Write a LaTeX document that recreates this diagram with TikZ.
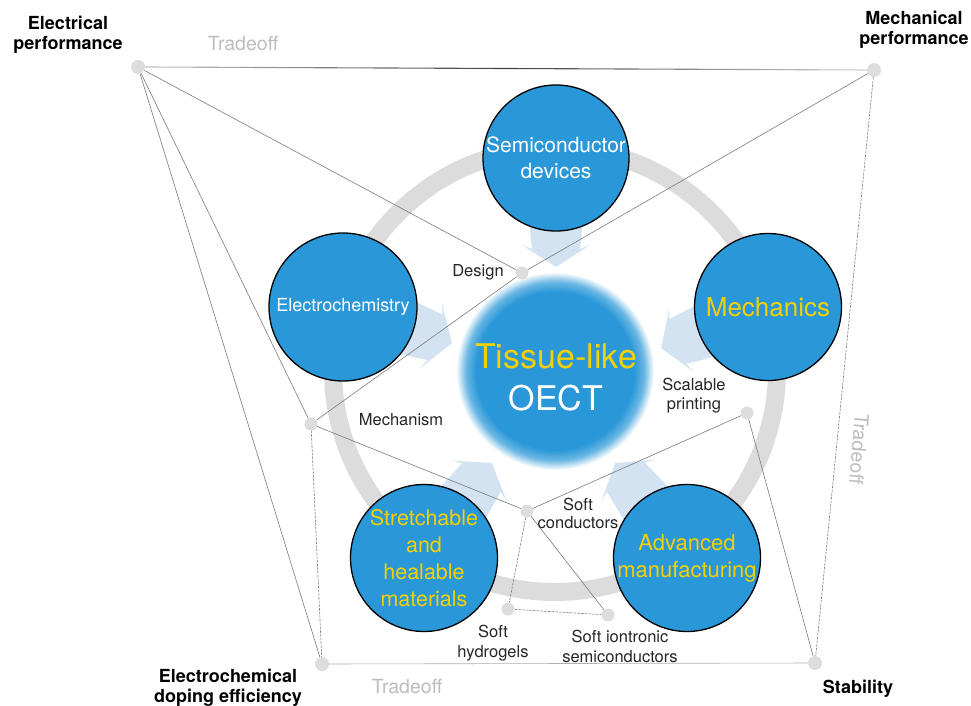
\documentclass[tikz,border=0pt]{standalone}
\usepackage{fontspec}
\setmainfont{TeX Gyre Heros}
\usetikzlibrary{calc}
\definecolor{oblue}{HTML}{2A98D8}
\definecolor{yel}{HTML}{F5D000}
\definecolor{ringgray}{HTML}{DCDCDC}
\definecolor{arrowblue}{HTML}{D3E3F1}
\definecolor{dotgray}{HTML}{DDDDDD}
\definecolor{linegray}{HTML}{7A7A7A}
\definecolor{tradegray}{HTML}{BDBDBD}
\pgfdeclareradialshading{oectshade}{\pgfpoint{0bp}{0bp}}{color(0bp)=(oblue); color(20bp)=(oblue); color(22.5bp)=(oblue!70!white); color(25bp)=(white); color(50bp)=(white)}
\begin{document}
\begin{tikzpicture}[x=1pt,y=-1pt,
  dot/.style={circle, fill=dotgray, minimum size=13pt, inner sep=0pt},
  conn/.style={draw=linegray, line width=0.6pt},
  dconn/.style={conn, dash pattern=on 2.5pt off 1.2pt},
  topic/.style={circle, draw=black, line width=1.3pt, fill=oblue, inner sep=0pt, align=center},
  corner/.style={font=\bfseries\fontsize{18}{20}\selectfont, align=center, inner sep=0pt},
  lab/.style={font=\fontsize{16.5}{19}\selectfont, align=center, inner sep=0pt, text=black!85},
  trade/.style={font=\fontsize{19.5}{20}\selectfont, text=tradegray, inner sep=0pt},
  bigarrow/.pic={\fill[arrowblue] (0,0) -- (-22,34) -- (-18,24) -- (-90,32) -- (-90,-32) -- (-18,-24) -- (-22,-34) -- cycle;}
]
\useasboundingbox (0,0) rectangle (971,706);
\fill[white] (0,0) rectangle (971,706);

% ring
\draw[ringgray, line width=18pt] (555,370) circle[radius=222pt];

% arrows toward the centre
\pic[rotate=-90] at (556,267) {bigarrow};
\pic[rotate=-18.7] at (452,343) {bigarrow};
\pic[rotate=-159] at (661,348) {bigarrow};
\pic[rotate=53.8] at (492,463) {bigarrow};
\pic[rotate=127.5] at (615,463) {bigarrow};

% central OECT
\shade[shading=oectshade] (555,371) circle[radius=99pt];
\node[align=center, inner sep=0pt, text=white, font=\fontsize{34}{42}\selectfont] (oect) at (556,377) {\textcolor{yel}{Tissue-like}\\OECT};

% topic circles
\node[topic, minimum size=146pt, text=white, font=\fontsize{21}{26}\selectfont] (semi) at (556,158) {Semiconductor\\devices};
\node[topic, minimum size=148pt, text=white, font=\fontsize{18}{22}\selectfont] (elec) at (343,307) {Electrochemistry};
\node[topic, minimum size=147pt, text=yel, font=\fontsize{26}{30}\selectfont] (mech) at (768,307) {Mechanics};
\node[topic, minimum size=147pt, text=yel, font=\fontsize{21.5}{27}\selectfont] (stre) at (424,558) {Stretchable\\and\\healable\\materials};
\node[topic, minimum size=147pt, text=yel, font=\fontsize{22}{27}\selectfont] (adv) at (687,558) {Advanced\\manufacturing};

% dots
\node[dot, minimum size=14pt] (ep) at (138,67) {};
\node[dot, minimum size=14pt] (mp) at (874,70) {};
\node[dot, minimum size=14pt] (ede) at (322,664) {};
\node[dot, minimum size=14pt] (stab) at (815,663) {};
\node[dot] (design) at (522,273) {};
\node[dot] (mechanism) at (311,424) {};
\node[dot] (scal) at (747,413) {};
\node[dot] (scond) at (527,511) {};
\node[dot] (hydro) at (508,609) {};
\node[dot] (ionic) at (608,615) {};

% top tradeoff line (shaded)
\coordinate (tm) at ($(ep)!0.5!(mp)$);
\shade[left color=linegray!45, right color=black!75] ([yshift=-0.55pt]ep.east) -- ([yshift=-0.55pt]tm) -- ([yshift=0.55pt]tm) -- ([yshift=0.55pt]ep.east) -- cycle;
\shade[left color=black!75, right color=linegray!35] ([yshift=-0.55pt]tm) -- ([yshift=-0.55pt]mp.west) -- ([yshift=0.55pt]mp.west) -- ([yshift=0.55pt]tm) -- cycle;

% connectors
\draw[conn] (ep) -- (design);
\draw[conn] (ep) -- (mechanism);
\draw[conn] (ep) -- (ede);
\draw[conn] (mp) -- (design);
\draw[dconn] (mp) -- (stab);
\draw[conn] (design) -- (mechanism);
\draw[dconn] (mechanism) -- (ede);
\draw[conn] (mechanism) -- (scond);
\draw[conn] (scal) -- (scond);
\draw[conn] (scal) -- (stab);
\draw[dconn] (scond) -- (hydro);
\draw[conn] (scond) -- (ionic);
\draw[dconn] (hydro) -- (ionic);
\draw[conn, draw=linegray!60] (ede) -- (stab);

% corner labels
\node[corner] (epl) at (68,35) {Electrical\\performance};
\node[corner] (mpl) at (914,30) {Mechanical\\performance};
\node[corner] (edel) at (228,688) {Electrochemical\\doping efficiency};
\node[corner] (stabl) at (858,689) {Stability};

% tradeoff labels
\node[trade] (t1) at (243,44) {Tradeoff};
\node[trade] (t2) at (407,687) {Tradeoff};
\node[trade, rotate=-95] (t3) at (859,449) {Tradeoff};

% small labels
\node[lab] (designl) at (478,272) {Design};
\node[lab] (mechl) at (401,420) {Mechanism};
\node[lab, font=\fontsize{16.5}{19}\selectfont] (scall) at (694,396) {Scalable\\printing};
\node[lab, font=\fontsize{16.5}{18}\selectfont] (scondl) at (578,513) {Soft\\conductors};
\node[lab, font=\fontsize{16.5}{20}\selectfont] (hydrol) at (493,643) {Soft\\hydrogels};
\node[lab, font=\fontsize{16.5}{20}\selectfont] (ionicl) at (620,646) {Soft iontronic\\semiconductors};
\end{tikzpicture}
\end{document}
